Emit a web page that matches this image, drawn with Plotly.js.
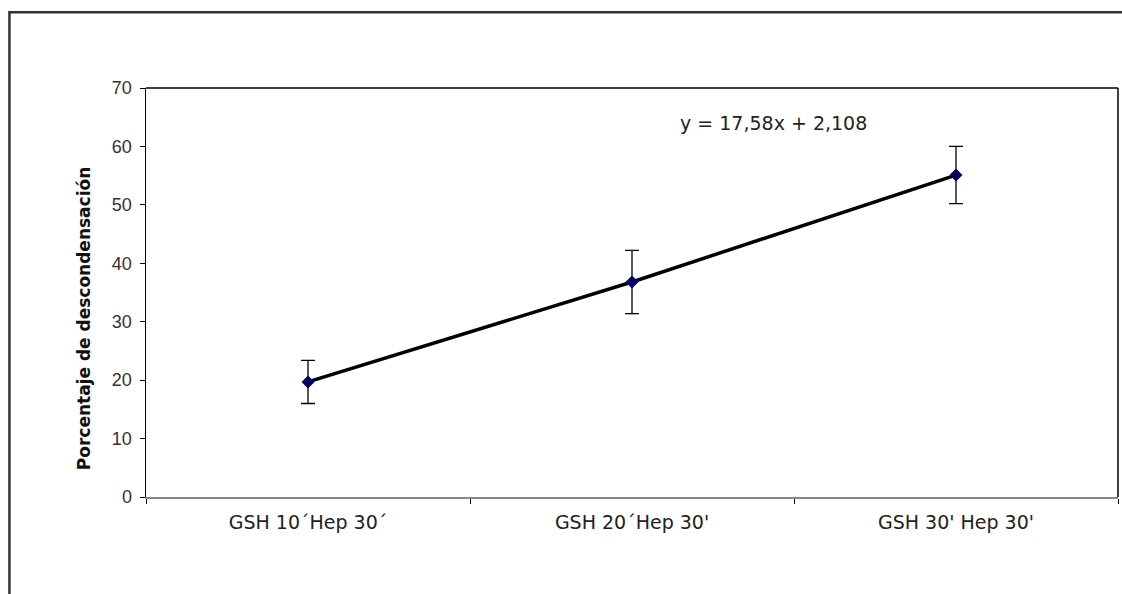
<!DOCTYPE html>
<html>
<head>
<meta charset="utf-8">
<script src="https://cdn.plot.ly/plotly-3.0.1.min.js"></script>
<style>html,body{margin:0;padding:0;background:#fff;}#chart{width:1122px;height:594px;}</style>
</head>
<body>
<div id="chart"></div>
<script>
var categories = ["GSH 10´Hep 30´", "GSH 20´Hep 30'", "GSH 30' Hep 30'"];
var values = [19.7, 36.8, 55.1];
var errors = [3.7, 5.4, 4.9];
var yTicks = [0, 10, 20, 30, 40, 50, 60, 70];
var equationText = "y = 17,58x + 2,108";
var yTitle = "Porcentaje de descondensación";

var trace = {
  x: categories,
  y: values,
  type: "scatter",
  mode: "lines+markers",
  line: {color: "#000000", width: 3.5},
  marker: {symbol: "diamond", size: 10, color: "#000066"},
  error_y: {type: "data", array: errors, visible: true, color: "#000000", thickness: 1.3, width: 7},
  hoverinfo: "skip"
};

var layout = {
  width: 1122, height: 594,
  margin: {l: 146, r: 4, t: 88, b: 97},
  paper_bgcolor: "#ffffff",
  plot_bgcolor: "#ffffff",
  showlegend: false,
  font: {family: "Liberation Sans, Arial, sans-serif", color: "#222"},
  xaxis: {
    type: "category",
    range: [-0.5, 2.5],
    tickson: "boundaries",
    ticks: "outside", ticklen: 5, tickcolor: "#000",
    showline: true, linecolor: "#888", linewidth: 1.5,
    showgrid: false, zeroline: false,
    tickfont: {family: "DejaVu Sans, sans-serif", size: 19, color: "#222"},
    ticklabelstandoff: 8
  },
  yaxis: {
    range: [0, 70],
    tickvals: yTicks,
    ticks: "outside", ticklen: 5, tickcolor: "#000",
    showline: true, linecolor: "#000", linewidth: 1.5,
    showgrid: false, zeroline: false,
    tickfont: {size: 18, color: "#333"},
    ticklabelstandoff: 4
  },
  shapes: [
    {type: "line", xref: "paper", yref: "paper", x0: 0, x1: 1, y0: 1, y1: 1, line: {color: "#000", width: 1.5}},
    {type: "line", xref: "paper", yref: "paper", x0: 1, x1: 1, y0: 0, y1: 1, line: {color: "#000", width: 1.5}},
    {type: "rect", xref: "paper", yref: "paper", x0: -0.1405, x1: 1.2, y0: -0.4, y1: 1.1855, line: {color: "#333", width: 2.5}}
  ],
  annotations: [
    {text: equationText, xref: "paper", yref: "y", x: 0.646, y: 64, showarrow: false,
     font: {family: "DejaVu Sans, sans-serif", size: 19, color: "#222"}},
    {text: "<b>" + yTitle + "</b>", xref: "paper", yref: "paper", x: -0.076, y: 0.435, textangle: -90, showarrow: false,
     font: {family: "DejaVu Sans, sans-serif", size: 17, color: "#111"}}
  ]
};

Plotly.newPlot("chart", [trace], layout, {displayModeBar: false, staticPlot: true});
</script>
</body>
</html>
